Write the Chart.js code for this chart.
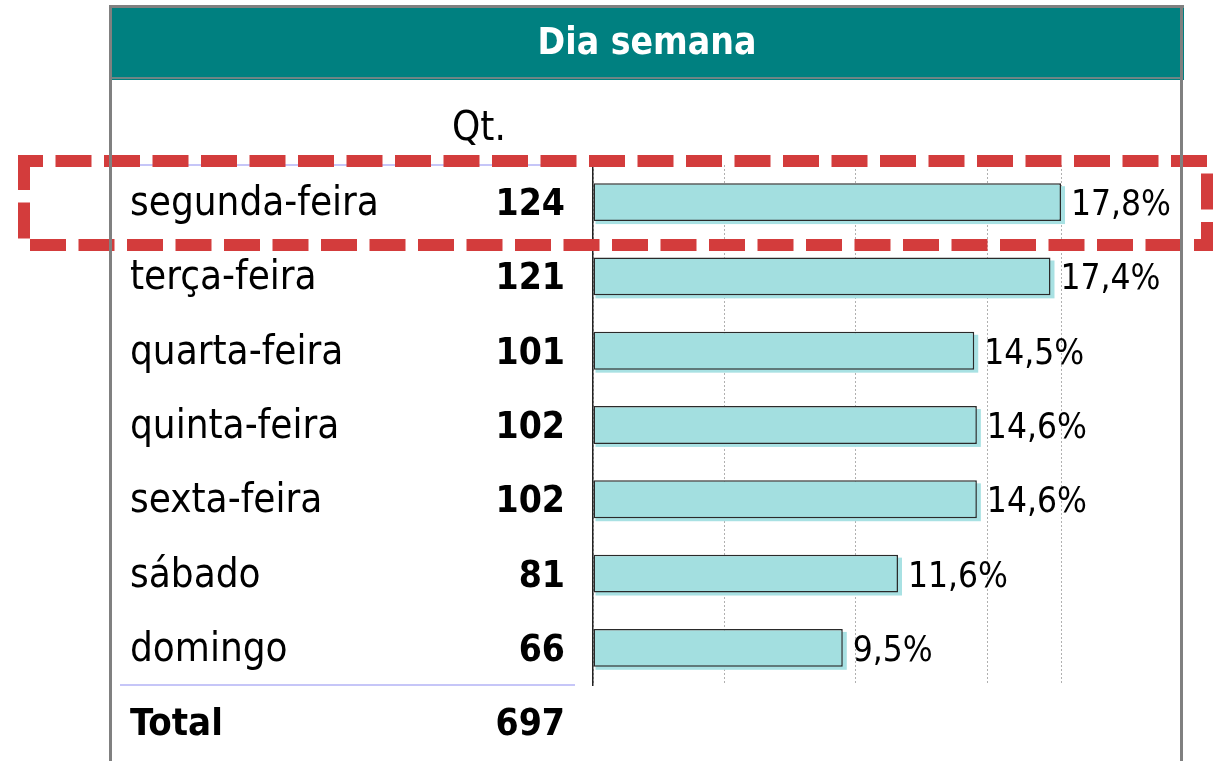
<!DOCTYPE html>
<html><head><meta charset="utf-8">
<script src="https://cdn.jsdelivr.net/npm/chart.js@4/dist/chart.umd.min.js"></script>
<style>html,body{margin:0;padding:0;background:#fff;} #wrap{position:relative;width:1218px;height:761px;}</style>
</head><body><div id="wrap"><canvas id="c" width="1218" height="761"></canvas></div>
<script>
const titleText = 'Dia semana';
const qtHeader = 'Qt.';
const categories = ['segunda-feira','terça-feira','quarta-feira','quinta-feira','sexta-feira','sábado','domingo'];
const counts = [124,121,101,102,102,81,66];
const percents = [17.8,17.4,14.5,14.6,14.6,11.6,9.5];
const totalLabel = 'Total';
const totalCount = 697;
const xTicks = [0,5,10,15,17.8];

const FAM = "'DejaVu Sans Condensed', 'DejaVu Sans', sans-serif";

const decor = {
  id:'decor',
  beforeDraw(chart){
    const c = chart.ctx;
    c.save();
    c.fillStyle = '#ffffff';
    c.fillRect(0,0,chart.width,chart.height);
    c.fillStyle = '#008080';
    c.fillRect(111,8,1073,72);
    c.fillStyle = '#6f8585';
    c.fillRect(111,77,1071,2);
    c.fillStyle = '#ffffff';
    c.font = 'bold 37px ' + FAM;
    c.textAlign = 'center';
    c.textBaseline = 'alphabetic';
    c.fillText(titleText, 647, 54);
    c.restore();
  },
  beforeDatasetsDraw(chart){
    const c = chart.ctx;
    const meta = chart.getDatasetMeta(0);
    c.save();
    c.fillStyle = '#a8e1e3';
    meta.data.forEach(el => {
      const p = el.getProps(['x','y','base','height'], true);
      c.fillRect(p.base + 2, p.y - p.height/2 + 3, p.x - p.base + 2, p.height);
    });
    c.restore();
  },
  afterDatasetsDraw(chart){
    const c = chart.ctx;
    const ys = chart.scales.y, xs = chart.scales.x;
    const step = ys.getPixelForValue(1) - ys.getPixelForValue(0);
    c.save();
    c.fillStyle = '#000';
    c.textBaseline = 'alphabetic';
    categories.forEach((lab,i) => {
      const yc = ys.getPixelForValue(i);
      c.font = '40px ' + FAM; c.textAlign = 'left';
      c.fillText(lab, 130, yc + 13);
      c.font = 'bold 37px ' + FAM; c.textAlign = 'right';
      c.fillText(String(counts[i]), 565, yc + 13);
      c.font = '35px ' + FAM; c.textAlign = 'left';
      c.fillText(percents[i].toFixed(1).replace('.', ',') + '%', xs.getPixelForValue(percents[i]) + 10, yc + 13);
    });
    const yTot = ys.getPixelForValue(categories.length - 1) + step;
    c.font = 'bold 38px ' + FAM; c.textAlign = 'left';
    c.fillText(totalLabel, 130, yTot + 13);
    c.font = 'bold 37px ' + FAM; c.textAlign = 'right';
    c.fillText(String(totalCount), 565, yTot + 13);
    c.font = '40px ' + FAM; c.textAlign = 'left';
    c.fillText(qtHeader, 452, 140);
    c.restore();
  },
  afterDraw(chart){
    const c = chart.ctx;
    const a = chart.chartArea;
    c.save();
    c.strokeStyle = '#b4b4f6'; c.lineWidth = 1.5;
    c.beginPath();
    c.moveTo(120, a.top); c.lineTo(575, a.top);
    c.moveTo(120, a.bottom); c.lineTo(575, a.bottom);
    c.stroke();
    c.strokeStyle = '#d33c3c'; c.lineWidth = 12;
    c.setLineDash([36,12.5]);
    c.lineDashOffset = 17;
    c.lineJoin = 'miter';
    c.strokeRect(24,161,1183,84);
    c.setLineDash([]);
    c.fillStyle = '#808080';
    c.fillRect(109,5,1075,3);
    c.fillRect(109,6,3,755);
    c.fillRect(1180,6,3,755);
    c.restore();
  }
};

const chart = new Chart(document.getElementById('c'), {
  type:'bar',
  data:{labels:categories, datasets:[{data:percents, backgroundColor:'#a3dfe0', borderColor:'#2a2a2a', borderWidth:1.5, barPercentage:0.51, categoryPercentage:1, borderSkipped:false}]},
  options:{
    indexAxis:'y', responsive:false, animation:false, devicePixelRatio:1,
    layout:{padding:{left:593,right:157,top:165,bottom:76}},
    plugins:{legend:{display:false}, tooltip:{enabled:false}},
    scales:{
      x:{min:0,max:17.8, afterBuildTicks: s => { s.ticks = xTicks.map(v => ({value:v})); }, ticks:{display:false}, grid:{color:'#b0b0b0', lineWidth:1, drawTicks:false}, border:{display:false, dash:[2,2]}},
      y:{grid:{display:false, drawTicks:false}, ticks:{display:false}, border:{display:true, color:'#222', width:1.5}}
    }
  },
  plugins:[decor]
});
if (document.fonts && document.fonts.ready) document.fonts.ready.then(() => chart.draw());
</script></body></html>
